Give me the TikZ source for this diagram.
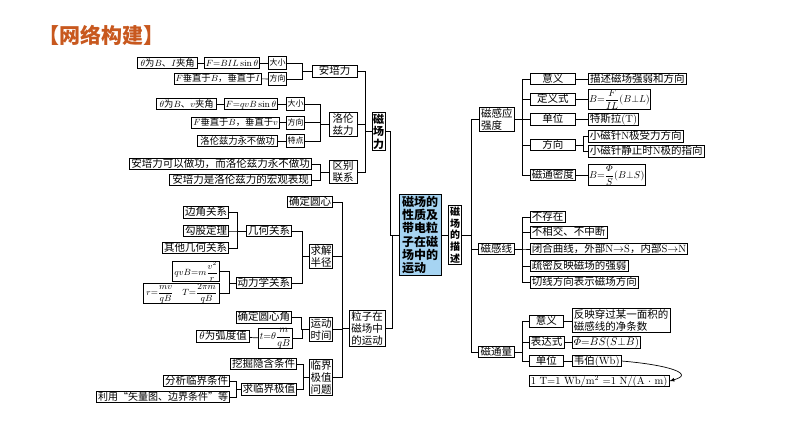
\documentclass[tikz,border=0pt]{standalone}
\usepackage{amsmath}
\usepackage{fontspec}
\newfontfamily\cjk{Noto Sans CJK SC}
\usetikzlibrary{arrows}
\definecolor{titlecol}{RGB}{200,88,30}
\definecolor{hubfill}{RGB}{166,212,242}
\tikzset{>=latex}
\tikzset{leaf/.style={draw, line width=0.7pt, inner xsep=1.5pt, inner ysep=0.6pt,
    font=\cjk\fontsize{10.5}{12}\selectfont, text height=8.6pt, text depth=1.8pt},
  leafm/.style={leaf, font=\cjk\fontsize{9.3}{11}\selectfont, text height=7.8pt, text depth=1.7pt},
  leafs/.style={leaf, inner xsep=1pt, minimum height=13pt,
    font=\cjk\fontsize{8}{10}\selectfont, text height=6.8pt, text depth=1.4pt},
  stack/.style={draw, line width=0.7pt, inner xsep=1pt, inner ysep=1pt, align=center,
    font=\cjk\fontsize{10.5}{12}\selectfont},
  formula/.style={draw, line width=0.7pt, inner xsep=0.8pt, inner ysep=0pt, font=\fontsize{9.8}{10}\selectfont},
  hub/.style={draw, line width=0.7pt, fill=hubfill, align=left, inner xsep=3pt, inner ysep=1.5pt,
    font=\cjk\bfseries\fontsize{12}{13.2}\selectfont},
  wd/.style={minimum width=#1},
  conn/.style={line width=0.7pt}}
\begin{document}
\begin{tikzpicture}[x=1pt,y=-1pt]
\fill[white] (0,0) rectangle (794,447);
\useasboundingbox (0,0) rectangle (794,447);
\node[font=\cjk\bfseries\fontsize{21}{24}\selectfont, text=titlecol, anchor=west] (title) at (35,35) {【网络构建】};
% magnetic force branch
\node[leafm, wd=60, anchor=east] (apth) at (198,63) {$\theta$为$B$、$I$夹角};
\node[leafm, wd=53, anchor=east] (apF) at (260,63) {$F{=}BIL\sin\theta$};
\node[leafs, wd=17, anchor=east] (apdx) at (287,63) {大小};
\node[leafm, wd=85, anchor=east] (apFd) at (262,78.5) {$F$垂直于$B$，垂直于$I$};
\node[leafs, wd=17, anchor=east] (apfx) at (287,79) {方向};
\node[leaf, wd=45] (apl) at (334.5,71.5) {安培力};
\node[leafm, wd=60, anchor=east] (lzth) at (217,104) {$\theta$为$B$、$v$夹角};
\node[leafm, wd=52, anchor=east] (lzF) at (278,104) {$F{=}qvB\sin\theta$};
\node[leafs, wd=17, anchor=east] (lzdx) at (305,104) {大小};
\node[leafm, wd=88, anchor=east] (lzFd) at (280,122.5) {$F$垂直于$B$，垂直于$v$};
\node[leafs, wd=17, anchor=east] (lzfx) at (305,122.5) {方向};
\node[leafm, wd=80, anchor=east] (lztd) at (278,141) {洛伦兹力永不做功};
\node[leafs, wd=17, anchor=east] (lzt) at (305,141) {特点};
\node[stack, wd=28] (lzl) at (343,124) {洛伦\\兹力};
\node[leaf, wd=182, anchor=east] (qb1) at (312,164) {安培力可以做功，而洛伦兹力永不做功};
\node[leaf, wd=142, anchor=east] (qb2) at (312,180) {安培力是洛伦兹力的宏观表现};
\node[stack, wd=28] (qb) at (343,172) {区别\\联系};
\node[stack, font=\cjk\bfseries\fontsize{11}{12.5}\selectfont] (cf) at (378.5,131.5) {磁\\场\\力};
% centre
\node[hub] (hub) at (420,235) {磁场的\\性质及\\带电粒\\子在磁\\场中的\\运动};
\node[stack, inner xsep=1.5pt, font=\cjk\bfseries\fontsize{10}{11.8}\selectfont] (msd) at (455,235) {磁\\场\\的\\描\\述};
% particle motion branch
\node[stack, wd=36] (lzn) at (367,328.5) {粒子在\\磁场中\\的运动};
\node[leaf, wd=44, anchor=east] (qdyx) at (333,202) {确定圆心};
\node[leaf, wd=45, anchor=east] (bj) at (229,212.5) {边角关系};
\node[leaf, wd=45, anchor=east] (gg) at (229,231) {勾股定理};
\node[leaf, wd=66, anchor=east] (qt) at (229,248) {其他几何关系};
\node[leaf, wd=45, anchor=east] (jh) at (292,231) {几何关系};
\node[stack, wd=21, anchor=east] (qjbj) at (333,256.5) {求解\\半径};
\node[formula, wd=47, anchor=east, font=\fontsize{9}{10}\selectfont] (fqvb) at (220,271.5) {$qvB{=}m\dfrac{v^2}{r}$};
\node[formula, wd=76, anchor=east, font=\fontsize{9}{10}\selectfont] (frT) at (220,293.5) {$r{=}\dfrac{mv}{qB}\quad T{=}\dfrac{2\pi m}{qB}$};
\node[leaf, wd=55, anchor=east] (dlx) at (292,283) {动力学关系};
\node[leaf, wd=55, anchor=east] (qdj) at (292,317.5) {确定圆心角};
\node[stack, wd=21, anchor=east] (ydsj) at (333,329.5) {运动\\时间};
\node[leaf, wd=53, anchor=east] (hd) at (250,336.5) {$\theta$为弧度值};
\node[formula, wd=34, anchor=east] (ft) at (293,338.5) {$t{=}\theta\dfrac{m}{qB}$};
\node[leaf, wd=64, anchor=east] (wj) at (297,364) {挖掘隐含条件};
\node[stack, wd=21, anchor=east] (ljjz) at (333,377.5) {临界\\极值\\问题};
\node[leaf, wd=65, anchor=east] (fx) at (230,381) {分析临界条件};
\node[leaf, anchor=east, font=\cjk\fontsize{10}{12}\selectfont] (ly) at (230,397) {利用“矢量图、边界条件”等};
\node[leaf, wd=55, anchor=east] (qljz) at (297,389.5) {求临界极值};
% description branch
\node[stack, align=left, wd=35, anchor=west] (gyqd) at (479,119.5) {磁感应\\强度};
\node[leaf, wd=45, anchor=west] (yy1) at (530,79) {意义};
\node[leaf, wd=98, anchor=west] (ms) at (588,79) {描述磁场强弱和方向};
\node[leaf, wd=45, anchor=west] (dys) at (530,99.5) {定义式};
\node[formula, wd=56, anchor=west] (fB1) at (588,99.5) {$B{=}\dfrac{F}{IL}(B{\perp}L)$};
\node[leaf, wd=45, anchor=west] (dw1) at (530,119.5) {单位};
\node[leaf, wd=47, anchor=west] (tsl) at (588,119.5) {特斯拉\textrm{(T)}};
\node[leaf, wd=45, anchor=west] (fx1) at (530,145) {方向};
\node[leaf, wd=94, anchor=west] (xc1) at (588,136.5) {小磁针\textrm{N}极受力方向};
\node[leaf, wd=115, anchor=west] (xc2) at (588,151.5) {小磁针静止时\textrm{N}极的指向};
\node[leaf, wd=45, anchor=west] (tmd) at (530,175) {磁通密度};
\node[formula, wd=56, anchor=west] (fB2) at (588,175) {$B{=}\dfrac{\varPhi}{S}(B{\perp}S)$};
\node[leaf, wd=36, anchor=west] (cgx) at (478,249) {磁感线};
\node[leaf, anchor=west] (bcz) at (530,217) {不存在};
\node[leaf, anchor=west] (bxj) at (530,232.5) {不相交、不中断};
\node[leaf, anchor=west] (bhqx) at (530,249) {闭合曲线，外部\textrm{N}$\to$\textrm{S}，内部\textrm{S}$\to$\textrm{N}};
\node[leaf, anchor=west] (smfy) at (530,266) {疏密反映磁场的强弱};
\node[leaf, anchor=west] (qxfx) at (530,282.5) {切线方向表示磁场方向};
\node[leaf, wd=36, anchor=west] (ctl) at (478,352) {磁通量};
\node[leaf, wd=34, anchor=west] (yy2) at (529,321.5) {意义};
\node[stack, align=left, inner xsep=1.5pt, anchor=west] (fy) at (572,320.5) {反映穿过某一面积的\\磁感线的净条数};
\node[leaf, wd=34, anchor=west] (bds) at (529,342.5) {表达式};
\node[leaf, wd=61, anchor=west] (phi) at (572,342.5) {$\varPhi{=}BS(S{\perp}B)$};
\node[leaf, wd=34, anchor=west] (dw2) at (529,361) {单位};
\node[leaf, wd=46, anchor=west] (wb) at (572,361) {韦伯\textrm{(Wb)}};
\node[leaf, anchor=west, font=\rmfamily\fontsize{10.5}{12}\selectfont] (t1) at (529,381) {1 T=1 Wb/m$^2$ =1 N/(A $\cdot$ m)};
% connectors, left part
\draw[conn] (apth) -- (apF) -- (apdx);
\draw[conn] (apFd) -- (apfx);
\foreach \c in {apdx,apfx} \draw[conn] (\c.east) -- ++(15,0) |- (apl.west);
\draw[conn] (lzth) -- (lzF) -- (lzdx);
\draw[conn] (lzFd) -- (lzfx);
\draw[conn] (lztd) -- (lzt);
\foreach \c in {lzdx,lzfx,lzt} \draw[conn] (\c.east) -- ++(15,0) |- (lzl.west);
\foreach \c in {qb1,qb2} \draw[conn] (\c.east) -- ++(8,0) |- (qb.west);
\foreach \c in {apl,lzl,qb} \draw[conn] (\c.east) -- ++(8,0) |- (cf.west);
\draw[conn] (cf.east) -- ++(5,0) |- (hub.west);
\draw[conn] (lzn.east) -- ++(7,0) |- (hub.west);
\foreach \c in {bj,gg,qt} \draw[conn] (\c.east) -- ++(8,0) |- (jh.west);
\foreach \c in {fqvb,frT} \draw[conn] (\c.east) -- ++(9,0) |- (dlx.west);
\foreach \c in {jh,dlx} \draw[conn] (\c.east) -- ++(10,0) |- (qjbj.west);
\draw[conn] (hd) -- (ft);
\foreach \c in {qdj,ft} \draw[conn] (\c.east) -- ++(9.5,0) |- (ydsj.west);
\foreach \c in {fx,ly} \draw[conn] (\c.east) -- ++(6,0) |- (qljz.west);
\foreach \c in {wj,qljz} \draw[conn] (\c.east) -- ++(6,0) |- (ljjz.west);
\foreach \c in {qdyx,qjbj,ydsj,ljjz} \draw[conn] (\c.east) -- ++(9,0) |- (lzn.west);
% connectors, right part
\draw[conn] (hub) -- (msd);
\foreach \c in {gyqd,cgx,ctl} \draw[conn] (msd.east) -- ++(9,0) |- (\c.west);
\foreach \c in {yy1,dys,dw1,fx1,tmd} \draw[conn] (gyqd.east) -- ++(8,0) |- (\c.west);
\draw[conn] (yy1) -- (ms);
\draw[conn] (dys) -- (fB1);
\draw[conn] (dw1) -- (tsl);
\draw[conn] (tmd) -- (fB2);
\foreach \c in {xc1,xc2} \draw[conn] (fx1.east) -- ++(8,0) |- (\c.west);
\foreach \c in {bcz,bxj,bhqx,smfy,qxfx} \draw[conn] (cgx.east) -- ++(8,0) |- (\c.west);
\foreach \c in {yy2,bds,dw2} \draw[conn] (ctl.east) -- ++(8,0) |- (\c.west);
\draw[conn] (yy2) -- (fy.west |- yy2);
\draw[conn] (bds) -- (phi);
\draw[conn] (dw2) -- (wb);
\draw[conn,->] (wb.east) .. controls +(48,4) and +(26,-7) .. (t1.east);
\end{tikzpicture}
\end{document}
